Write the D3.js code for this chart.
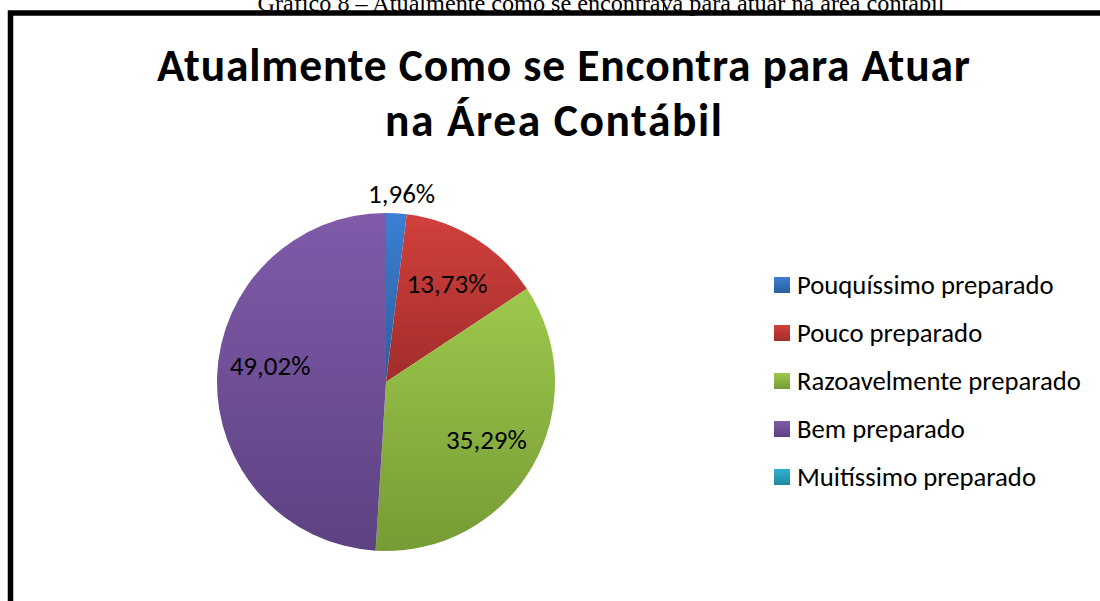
<!DOCTYPE html>
<html>
<head>
<meta charset="utf-8">
<script src="https://cdn.jsdelivr.net/npm/d3@7/dist/d3.min.js"></script>
<style>
  body { margin: 0; background: #fff; }
  svg { display: block; }
</style>
</head>
<body>
<svg id="chart"></svg>
<script>
// data
var categories = ["Pouquíssimo preparado", "Pouco preparado", "Razoavelmente preparado", "Bem preparado", "Muitíssimo preparado"];
var values = [1.96, 13.73, 35.29, 49.02, 0];
var labels = ["1,96%", "13,73%", "35,29%", "49,02%", ""];
var colorsTop = ["#3c7fd3", "#d2403c", "#9dc84c", "#7f5ba9", "#2fb3d3"];
var colorsBottom = ["#2c5e9c", "#a12d2b", "#779b35", "#5d4282", "#23879f"];

var width = 1100, height = 601;
var font = "Carlito, Calibri, Lato, sans-serif";

var svg = d3.select("#chart")
    .attr("width", width)
    .attr("height", height);

// caption of the document (cut off at top)
svg.append("text")
    .attr("x", 601)
    .attr("y", 11)
    .attr("text-anchor", "middle")
    .attr("font-family", "'Liberation Serif', 'Times New Roman', serif")
    .attr("font-size", "24px")
    .attr("textLength", 687)
    .attr("lengthAdjust", "spacingAndGlyphs")
    .text("Gráfico 8 – Atualmente como se encontrava para atuar na área contábil");

svg.append("line")
    .attr("x1", 663.5).attr("x2", 663.5)
    .attr("y1", 0).attr("y2", 13)
    .attr("stroke", "#000").attr("stroke-width", 1);

// chart border
svg.append("rect")
    .attr("x", 10.5)
    .attr("y", 13)
    .attr("width", 1200)
    .attr("height", 700)
    .attr("fill", "none")
    .attr("stroke", "#000")
    .attr("stroke-width", 5.5);

// title
var title = svg.append("text")
    .attr("text-anchor", "middle")
    .attr("font-family", font)
    .attr("font-weight", "bold")
    .attr("font-size", "45.5px")
    .attr("fill", "#000");
title.append("tspan").attr("x", 563.5).attr("y", 81)
    .attr("textLength", 813).attr("lengthAdjust", "spacing")
    .text("Atualmente Como se Encontra para Atuar");
title.append("tspan").attr("x", 553.5).attr("y", 136)
    .attr("textLength", 337).attr("lengthAdjust", "spacing")
    .text("na Área Contábil");

// gradients
var defs = svg.append("defs");
categories.forEach((c, i) => {
    var g = defs.append("linearGradient")
        .attr("id", "grad" + i)
        .attr("x1", 0).attr("y1", 0).attr("x2", 0).attr("y2", 1);
    g.append("stop").attr("offset", "0%").attr("stop-color", colorsTop[i]);
    g.append("stop").attr("offset", "100%").attr("stop-color", colorsBottom[i]);
});

// pie
var cx = 386, cy = 382, r = 169;
var pie = d3.pie().sort(null).value(d => d);
var arcs = pie(values);
var arc = d3.arc().innerRadius(0).outerRadius(r);

var pieG = svg.append("g").attr("transform", `translate(${cx},${cy})`);

pieG.selectAll("path")
    .data(arcs)
    .enter()
    .append("path")
    .attr("d", arc)
    .attr("fill", (d, i) => `url(#grad${i})`);

// data labels
var labelArc = d3.arc().innerRadius(116).outerRadius(116);
pieG.selectAll("text.lbl")
    .data(arcs)
    .enter()
    .append("text")
    .attr("class", "lbl")
    .attr("transform", (d, i) => {
        if (i == 0) {
            // outside label for the small slice
            var a = (d.startAngle + d.endAngle) / 2;
            return `translate(${Math.sin(a) * (r + 20) + 4},${-Math.cos(a) * (r + 20)})`;
        }
        var p = labelArc.centroid(d);
        if (i == 3) p[1] -= 13;
        return `translate(${p[0]},${p[1]})`;
    })
    .attr("dy", "0.35em")
    .attr("text-anchor", "middle")
    .attr("font-family", font)
    .attr("font-size", "27px")
    .attr("fill", "#000")
    .text((d, i) => labels[i]);

// legend
var legendY = d3.scalePoint()
    .domain(categories)
    .range([285, 477]);

var legend = svg.append("g");
var items = legend.selectAll("g")
    .data(categories)
    .enter()
    .append("g")
    .attr("transform", d => `translate(774,${legendY(d)})`);

items.append("rect")
    .attr("x", 0).attr("y", -8)
    .attr("width", 16).attr("height", 16)
    .attr("fill", (d, i) => `url(#grad${i})`);

items.append("text")
    .attr("x", 23)
    .attr("dy", "0.35em")
    .attr("font-family", font)
    .attr("font-size", "26.7px")
    .attr("fill", "#000")
    .text(d => d);
</script>
</body>
</html>
